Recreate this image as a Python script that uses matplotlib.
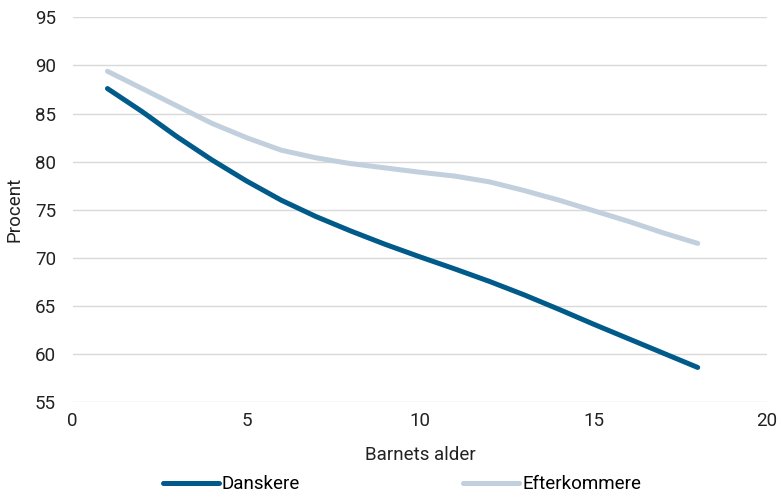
import matplotlib.pyplot as plt

plt.rcParams["font.family"] = ["Roboto", "DejaVu Sans"]

# Andel (procent) efter barnets alder
alder = [1, 2, 3, 4, 5, 6, 7, 8, 9, 10, 11, 12, 13, 14, 15, 16, 17, 18]
danskere = [87.6, 85.2, 82.6, 80.2, 78.0, 76.0, 74.3, 72.8, 71.4, 70.1,
            68.85, 67.55, 66.15, 64.65, 63.1, 61.6, 60.1, 58.6]
efterkommere = [89.4, 87.6, 85.8, 84.0, 82.5, 81.2, 80.4, 79.8, 79.35, 78.9,
                78.5, 77.9, 77.0, 76.0, 74.9, 73.8, 72.6, 71.5]

fig = plt.figure(figsize=(7.82, 4.97), dpi=100)
ax = fig.add_axes([0.093, 0.191, 0.888, 0.774])

ax.plot(alder, danskere, color="#005b8a", lw=3.6, solid_capstyle="round", label="Danskere", zorder=3)
ax.plot(alder, efterkommere, color="#c2cfdd", lw=3.6, solid_capstyle="round", label="Efterkommere", zorder=2)

ax.set_xlim(0, 20)
ax.set_ylim(55, 95)
ax.set_xticks(range(0, 21, 5))
ax.set_yticks(range(55, 96, 5))
ax.grid(axis="y", color="#d9d9d9", lw=1)
ax.set_axisbelow(True)
for s in ax.spines.values():
    s.set_visible(False)
ax.tick_params(length=0, labelsize=13.5, colors="#222222", pad=7)
ax.tick_params(axis="y", pad=12)

ax.set_xlabel("Barnets alder", fontsize=13.5, color="#222222", labelpad=12)
ax.set_ylabel("Procent", fontsize=13.5, color="#222222", labelpad=8)

fig.legend(loc="center", bbox_to_anchor=(0.514, 0.026), ncol=2, frameon=False,
           fontsize=13.5, handlelength=3.0, handletextpad=0.15, columnspacing=8.7)

fig.savefig("out.png", dpi=100)
